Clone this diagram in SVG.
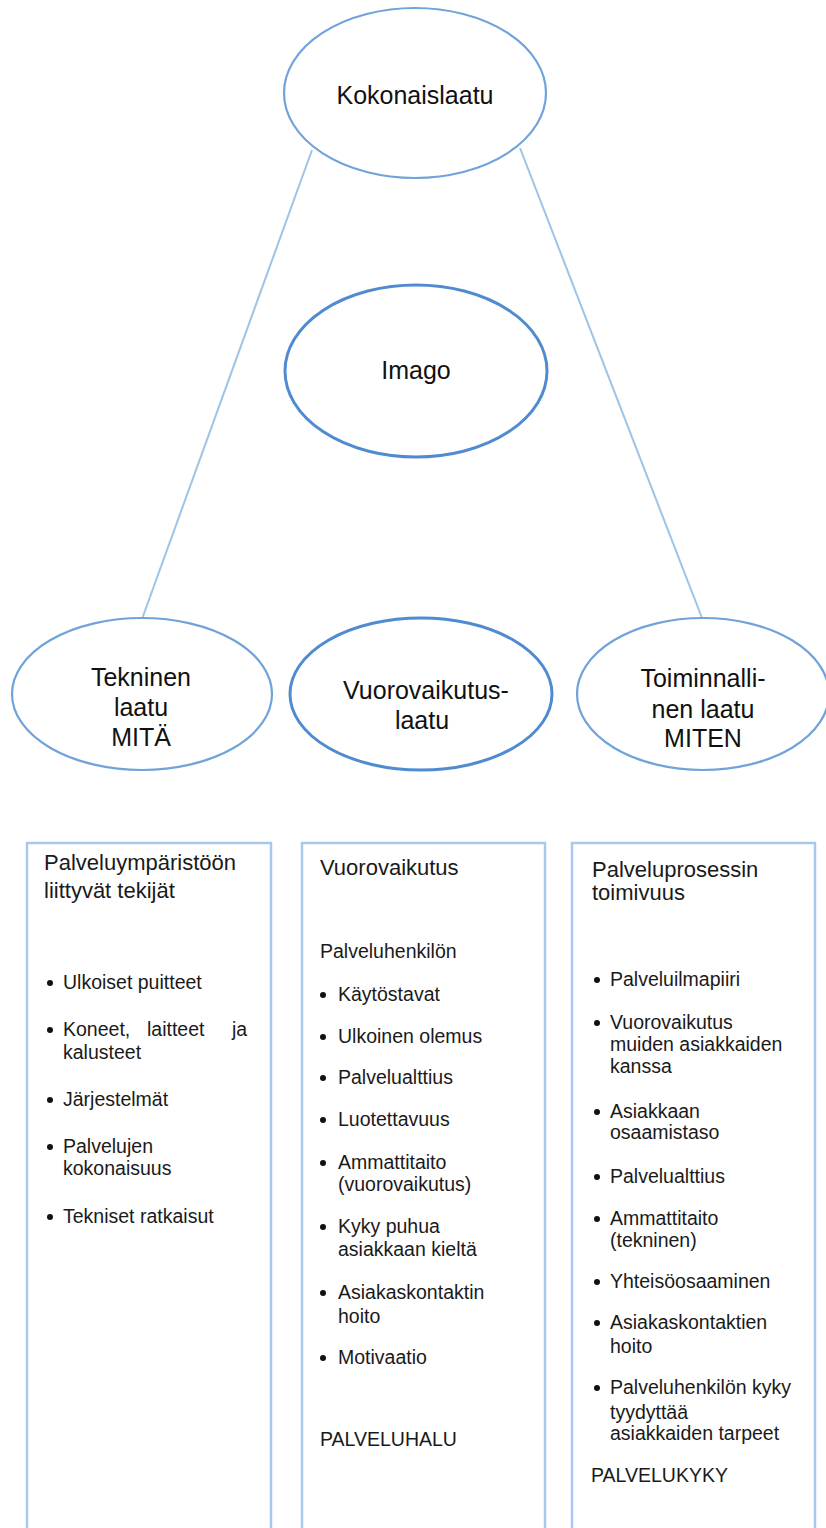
<svg xmlns="http://www.w3.org/2000/svg" width="826" height="1528" viewBox="0 0 826 1528">
<style>
.ell{fill:#fff;stroke:#6FA3DA;stroke-width:2.2}
.ell2{fill:#fff;stroke:#4F8BD0;stroke-width:3}
.box{fill:#fff;stroke:#A8C9EE;stroke-width:2.5}
.conn{stroke:#9DC3E6;stroke-width:2;fill:none}
.t{font-family:"Liberation Sans",Arial,sans-serif;font-size:25px;fill:#111;text-anchor:middle}
.b{font-family:"Liberation Sans",Arial,sans-serif;font-size:19.5px;fill:#1a1a1a}
.h{font-family:"Liberation Sans",Arial,sans-serif;font-size:22px;fill:#1a1a1a}
.d{fill:#111}
</style>
<rect width="826" height="1528" fill="#fff"/>
<g id="connectors">
<line class="conn" x1="312" y1="150" x2="142" y2="619"/>
<line class="conn" x1="520" y1="148" x2="702" y2="618"/>
</g>
<g id="kokonaislaatu">
<ellipse class="ell" cx="415" cy="93" rx="131" ry="85"/>
<text class="t" x="415" y="104">Kokonaislaatu</text>
</g>
<g id="imago">
<ellipse class="ell2" cx="416" cy="371" rx="131" ry="86"/>
<text class="t" x="416" y="379">Imago</text>
</g>
<g id="tekninen">
<ellipse class="ell" cx="142" cy="694" rx="130" ry="76"/>
<text class="t" x="141" y="686">Tekninen</text>
<text class="t" x="141" y="716">laatu</text>
<text class="t" x="141" y="746">MITÄ</text>
</g>
<g id="vuorovaikutuslaatu">
<ellipse class="ell2" cx="421" cy="694" rx="131" ry="76"/>
<text class="t" x="426" y="699">Vuorovaikutus-</text>
<text class="t" x="422" y="729">laatu</text>
</g>
<g id="toiminnallinen">
<ellipse class="ell" cx="703" cy="694" rx="126" ry="76"/>
<text class="t" x="703" y="687">Toiminnalli-</text>
<text class="t" x="703" y="718">nen laatu</text>
<text class="t" x="703" y="747">MITEN</text>
</g>
<g id="box-tekninen">
<rect class="box" x="27" y="843" width="244" height="700"/>
<text class="h" x="44" y="870">Palveluympäristöön</text>
<text class="h" x="44" y="898">liittyvät tekijät</text>
<circle class="d" cx="50" cy="983" r="3"/><text class="b" x="63" y="989">Ulkoiset puitteet</text>
<circle class="d" cx="50" cy="1030" r="3"/><text class="b" y="1036"><tspan x="63">Koneet,</tspan><tspan x="147">laitteet</tspan><tspan x="232">ja</tspan></text>
<text class="b" x="63" y="1059">kalusteet</text>
<circle class="d" cx="50" cy="1100" r="3"/><text class="b" x="63" y="1106">Järjestelmät</text>
<circle class="d" cx="50" cy="1147" r="3"/><text class="b" x="63" y="1153">Palvelujen</text>
<text class="b" x="63" y="1175">kokonaisuus</text>
<circle class="d" cx="50" cy="1217" r="3"/><text class="b" x="63" y="1223">Tekniset ratkaisut</text>
</g>
<g id="box-vuorovaikutus">
<rect class="box" x="302" y="843" width="243" height="700"/>
<text class="h" x="320" y="875">Vuorovaikutus</text>
<text class="b" x="320" y="958">Palveluhenkilön</text>
<circle class="d" cx="323" cy="995" r="3"/><text class="b" x="338" y="1001">Käytöstavat</text>
<circle class="d" cx="323" cy="1037" r="3"/><text class="b" x="338" y="1043">Ulkoinen olemus</text>
<circle class="d" cx="323" cy="1078" r="3"/><text class="b" x="338" y="1084">Palvelualttius</text>
<circle class="d" cx="323" cy="1120" r="3"/><text class="b" x="338" y="1126">Luotettavuus</text>
<circle class="d" cx="323" cy="1163" r="3"/><text class="b" x="338" y="1169">Ammattitaito</text>
<text class="b" x="338" y="1191">(vuorovaikutus)</text>
<circle class="d" cx="323" cy="1227" r="3"/><text class="b" x="338" y="1233">Kyky puhua</text>
<text class="b" x="338" y="1256">asiakkaan kieltä</text>
<circle class="d" cx="323" cy="1293" r="3"/><text class="b" x="338" y="1299">Asiakaskontaktin</text>
<text class="b" x="338" y="1323">hoito</text>
<circle class="d" cx="323" cy="1358" r="3"/><text class="b" x="338" y="1364">Motivaatio</text>
<text class="b" x="320" y="1446">PALVELUHALU</text>
</g>
<g id="box-toiminnallinen">
<rect class="box" x="572" y="843" width="243" height="700"/>
<text class="h" x="592" y="877">Palveluprosessin</text>
<text class="h" x="592" y="900">toimivuus</text>
<circle class="d" cx="597" cy="980" r="3"/><text class="b" x="610" y="986">Palveluilmapiiri</text>
<circle class="d" cx="597" cy="1023" r="3"/><text class="b" x="610" y="1029">Vuorovaikutus</text>
<text class="b" x="610" y="1051">muiden asiakkaiden</text>
<text class="b" x="610" y="1073">kanssa</text>
<circle class="d" cx="597" cy="1112" r="3"/><text class="b" x="610" y="1118">Asiakkaan</text>
<text class="b" x="610" y="1139">osaamistaso</text>
<circle class="d" cx="597" cy="1177" r="3"/><text class="b" x="610" y="1183">Palvelualttius</text>
<circle class="d" cx="597" cy="1219" r="3"/><text class="b" x="610" y="1225">Ammattitaito</text>
<text class="b" x="610" y="1247">(tekninen)</text>
<circle class="d" cx="597" cy="1282" r="3"/><text class="b" x="610" y="1288">Yhteisöosaaminen</text>
<circle class="d" cx="597" cy="1323" r="3"/><text class="b" x="610" y="1329">Asiakaskontaktien</text>
<text class="b" x="610" y="1353">hoito</text>
<circle class="d" cx="597" cy="1388" r="3"/><text class="b" x="610" y="1394">Palveluhenkilön kyky</text>
<text class="b" x="610" y="1419">tyydyttää</text>
<text class="b" x="610" y="1440">asiakkaiden tarpeet</text>
<text class="b" x="591" y="1482">PALVELUKYKY</text>
</g>
</svg>
